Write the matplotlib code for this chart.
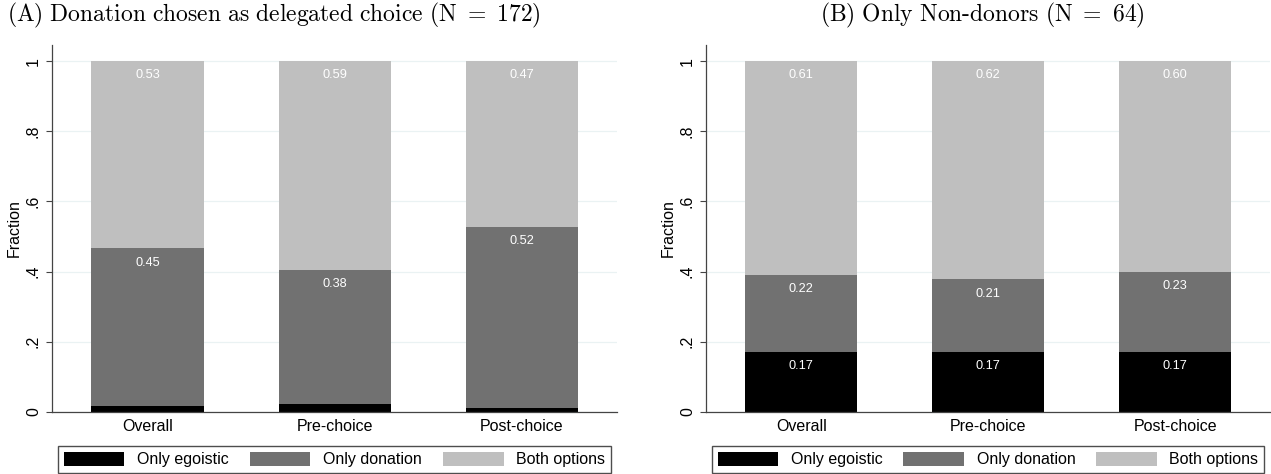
import matplotlib.pyplot as plt
import numpy as np

plt.rcParams['mathtext.fontset'] = 'cm'
plt.rcParams['font.family'] = 'Liberation Sans'

# data
groups = ['Overall', 'Pre-choice', 'Post-choice']
series = ['Only egoistic', 'Only donation', 'Both options']
colors = ['#000000', '#717171', '#bfbfbf']

egoistic_a = [0.016, 0.022, 0.010]
donation_a = [0.450, 0.384, 0.517]
both_a = [0.534, 0.594, 0.473]

egoistic_b = [0.172, 0.172, 0.172]
donation_b = [0.219, 0.206, 0.227]
both_b = [0.609, 0.622, 0.601]

titles = [r'$\mathrm{(A)\ Donation\ chosen\ as\ delegated\ choice\ (N\ =\ 172)}$',
          r'$\mathrm{(B)\ Only\ Non\text{-}donors\ (N\ =\ 64)}$']

W, H = 1271, 474
fig = plt.figure(figsize=(W / 100, H / 100), dpi=100)


def px_axes(x0, x1, ytop, ybot):
    return fig.add_axes([x0 / W, (H - ybot) / H, (x1 - x0) / W, (ybot - ytop) / H])


# axes, values, title x / alignment, legend box x range
panels = [
    (px_axes(52, 617, 45, 412), [egoistic_a, donation_a, both_a], 7, 'left', 58, 611),
    (px_axes(706, 1270, 45, 412), [egoistic_b, donation_b, both_b], 982, 'center', 712, 1264),
]

x = np.arange(len(groups))
for i, (ax, vals, tx, tha, lx0, lx1) in enumerate(panels):
    bottom = np.zeros(len(groups))
    handles = []
    for s, v, c in zip(series, vals, colors):
        v = np.array(v)
        b = ax.bar(x, v, 0.60, bottom=bottom, color=c, label=s, zorder=2)
        handles.append(b)
        for xi, top, val in zip(x, bottom + v, v):
            # labels of very thin segments fall below the axis (white on white)
            if val < 0.05:
                continue
            ax.annotate(f'{val:.2f}', (xi, top), xytext=(0, -6),
                        textcoords='offset points', ha='center', va='top',
                        color='white', fontsize=9.2, zorder=3)
        bottom = bottom + v

    ax.set_xlim(-0.51, 2.507)
    ax.set_ylim(0, 1.046)
    ax.set_yticks([0, 0.2, 0.4, 0.6, 0.8, 1.0])
    ax.set_yticklabels(['0', '.2', '.4', '.6', '.8', '1'], rotation=90,
                       va='center', fontsize=11.5)
    ax.set_xticks(x)
    ax.set_xticklabels(groups, fontsize=11.5)
    ax.tick_params(axis='x', length=0, pad=5)
    ax.tick_params(axis='y', length=4, width=0.8, color='#444444', pad=4)
    ax.set_ylabel('Fraction', fontsize=11.5, labelpad=3)
    ax.grid(axis='y', color='#eaf2f3', lw=0.9, zorder=0)
    for sp in ['top', 'right']:
        ax.spines[sp].set_visible(False)
    for sp in ['left', 'bottom']:
        ax.spines[sp].set_color('#444444')
        ax.spines[sp].set_linewidth(0.9)

    fig.text(tx / W, 1 - 15 / H, titles[i], fontsize=17, ha=tha, va='center')

    fig.legend(handles=handles, labels=series, ncol=3, mode='expand',
               loc='lower left',
               bbox_to_anchor=(lx0 / W, (H - 473) / H, (lx1 - lx0) / W, 30 / H),
               fontsize=11.5, frameon=True, fancybox=False, edgecolor='#222222',
               handlelength=3.8, handleheight=1.05, handletextpad=0.8,
               borderaxespad=0, borderpad=0.35, columnspacing=1.0)

fig.savefig('out.png', dpi=100)
